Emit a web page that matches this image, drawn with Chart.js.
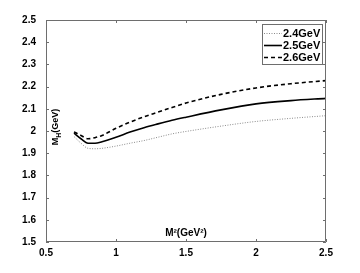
<!DOCTYPE html>
<html>
<head>
<meta charset="utf-8">
<style>
  html, body { margin: 0; padding: 0; background: #fff; }
  #wrap { width: 360px; height: 273px; position: relative; }
</style>
<script src="https://cdn.jsdelivr.net/npm/chart.js@4/dist/chart.umd.min.js"></script>
</head>
<body>
<div id="wrap"><canvas id="c" width="360" height="273"></canvas></div>
<script>
// ---- data ----
const m2 = [0.7, 0.75, 0.8, 0.85, 0.9, 1.0, 1.1, 1.2, 1.3, 1.4, 1.5, 1.75, 2.0, 2.25, 2.5];
const mh24 = [1.975, 1.945, 1.922, 1.920, 1.922, 1.932, 1.945, 1.957, 1.972, 1.987, 1.998, 2.022, 2.043, 2.057, 2.069];
const mh25 = [1.990, 1.965, 1.945, 1.945, 1.952, 1.972, 1.995, 2.015, 2.032, 2.048, 2.062, 2.095, 2.122, 2.137, 2.147];
const mh26 = [1.996, 1.980, 1.965, 1.970, 1.980, 2.012, 2.040, 2.064, 2.085, 2.106, 2.126, 2.165, 2.194, 2.213, 2.227];
const seriesLabels = ['2.4GeV', '2.5GeV', '2.6GeV'];
const xTicks = [0.5, 1, 1.5, 2, 2.5];
const yTicks = [1.5, 1.6, 1.7, 1.8, 1.9, 2, 2.1, 2.2, 2.3, 2.4, 2.5];
const xTitle = 'M\u00B2(GeV\u00B2)';
const yTitleParts = ['M', 'H', '(GeV)'];

const pts = (ys) => m2.map((x, i) => ({ x: x, y: ys[i] }));
const FONT = '"Liberation Sans", Arial, Helvetica, sans-serif';
const AXIS_COLOR = '#6e6e6e';

// inside tick marks + full box
const boxPlugin = {
  id: 'boxPlugin',
  afterDraw(chart) {
    const ctx = chart.ctx;
    const a = chart.chartArea;
    const xs = chart.scales.x, ys = chart.scales.y;
    ctx.save();
    ctx.strokeStyle = AXIS_COLOR;
    ctx.lineWidth = 1;
    ctx.beginPath();
    ctx.rect(Math.round(a.left) + 0.5, Math.round(a.top) + 0.5, Math.round(a.right - a.left) - 1, Math.round(a.bottom - a.top) - 1);
    ctx.stroke();
    const L = 3;
    ctx.beginPath();
    xTicks.forEach(v => {
      const px = Math.round(xs.getPixelForValue(v)) + 0.5;
      ctx.moveTo(px, a.bottom); ctx.lineTo(px, a.bottom - L);
      ctx.moveTo(px, a.top); ctx.lineTo(px, a.top + L);
    });
    yTicks.forEach(v => {
      const py = Math.round(ys.getPixelForValue(v)) + 0.5;
      ctx.moveTo(a.left, py); ctx.lineTo(a.left + L, py);
      ctx.moveTo(a.right, py); ctx.lineTo(a.right - L, py);
    });
    ctx.stroke();

    // y axis title (rotated, with subscript H), placed inside the plot like the reference
    ctx.fillStyle = '#000';
    ctx.translate(56, 127);
    ctx.rotate(-Math.PI / 2);
    ctx.textBaseline = 'middle';
    const f1 = 'bold 9px ' + FONT, f2 = 'bold 7px ' + FONT;
    ctx.font = f1; const w1 = ctx.measureText(yTitleParts[0]).width;
    ctx.font = f2; const w2 = ctx.measureText(yTitleParts[1]).width;
    ctx.font = f1; const w3 = ctx.measureText(yTitleParts[2]).width;
    let x0 = -(w1 + w2 + w3) / 2;
    ctx.font = f1; ctx.fillText(yTitleParts[0], x0, 0); x0 += w1;
    ctx.font = f2; ctx.fillText(yTitleParts[1], x0, 3); x0 += w2;
    ctx.font = f1; ctx.fillText(yTitleParts[2], x0, 0);
    ctx.restore();

    // legend box
    ctx.save();
    const bx = 262, by = 24, bw = 60, bh = 40;
    ctx.fillStyle = '#fff';
    ctx.fillRect(bx, by, bw, bh);
    ctx.strokeStyle = AXIS_COLOR;
    ctx.lineWidth = 1;
    ctx.strokeRect(bx + 0.5, by + 0.5, bw, bh);
    ctx.font = 'bold 11px ' + FONT;
    ctx.textBaseline = 'middle';
    ctx.textAlign = 'left';
    chart.data.datasets.forEach((ds, i) => {
      const yy = by + 9 + i * 12;
      ctx.strokeStyle = ds.borderColor;
      ctx.lineWidth = ds.borderWidth;
      ctx.setLineDash(ds.borderDash || []);
      ctx.beginPath();
      ctx.moveTo(264, yy + 0.5); ctx.lineTo(282, yy + 0.5);
      ctx.stroke();
      ctx.setLineDash([]);
      ctx.fillStyle = '#000';
      ctx.fillText(ds.label, 283, yy + 0.5);
    });
    ctx.restore();
  }
};

new Chart(document.getElementById('c'), {
  type: 'line',
  data: {
    datasets: [
      { label: seriesLabels[0], data: pts(mh24), borderColor: '#8a8a8a', borderWidth: 1, borderDash: [1, 1.5], pointRadius: 0, fill: false, cubicInterpolationMode: 'monotone' },
      { label: seriesLabels[1], data: pts(mh25), borderColor: '#000', borderWidth: 1.6, pointRadius: 0, fill: false, cubicInterpolationMode: 'monotone' },
      { label: seriesLabels[2], data: pts(mh26), borderColor: '#000', borderWidth: 1.6, borderDash: [4, 3], pointRadius: 0, fill: false, cubicInterpolationMode: 'monotone' }
    ]
  },
  options: {
    responsive: false,
    animation: false,
    devicePixelRatio: 1,
    layout: { padding: { left: 0, right: 34, top: 20, bottom: 0 } },
    plugins: { legend: { display: false }, tooltip: { enabled: false } },
    scales: {
      x: {
        type: 'linear', min: 0.5, max: 2.5,
        afterBuildTicks: (s) => { s.ticks = xTicks.map(v => ({ value: v })); },
        afterFit: (s) => { s.height = 31; },
        grid: { display: false },
        border: { display: false },
        ticks: { color: '#000', font: { family: FONT, size: 10, weight: 'bold' }, padding: -3, maxRotation: 0,
                 callback: (v) => String(v) },
        title: { display: true, text: xTitle, color: '#000', font: { family: FONT, size: 10, weight: 'bold' }, padding: { top: 0, bottom: 34 } }
      },
      y: {
        type: 'linear', min: 1.5, max: 2.5,
        afterBuildTicks: (s) => { s.ticks = yTicks.map(v => ({ value: v })); },
        afterFit: (s) => { s.width = 46; },
        grid: { display: false },
        border: { display: false },
        ticks: { color: '#000', font: { family: FONT, size: 10, weight: 'bold' }, padding: 2,
                 callback: (v) => String(Number(v.toFixed(1))) }
      }
    }
  },
  plugins: [boxPlugin]
});
</script>
</body>
</html>
